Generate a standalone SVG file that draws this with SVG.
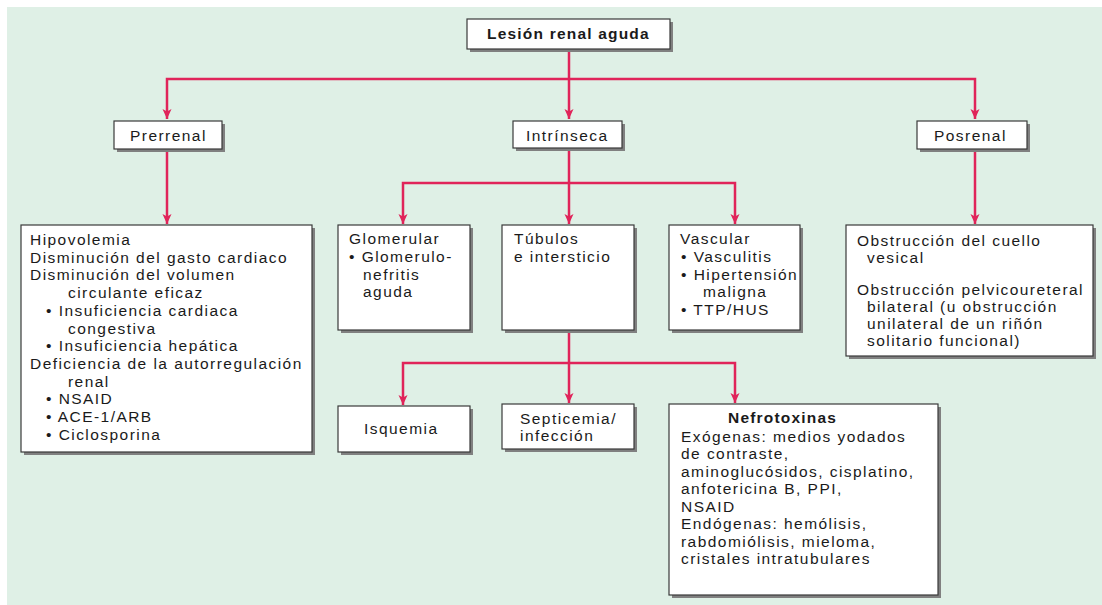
<svg xmlns="http://www.w3.org/2000/svg" width="1102" height="605" viewBox="0 0 1102 605">
<defs>
<marker id="ah" markerUnits="userSpaceOnUse" markerWidth="11" markerHeight="11" refX="10" refY="5" orient="auto">
<path d="M0,0.5 L10,5 L0,9.5 L2.5,5 z" fill="#e0245a"/>
</marker>
<style>
.bx{fill:#fff;stroke:#3a3a3a;stroke-width:1.2}
.sh{fill:#808080}
.t{font-family:"Liberation Sans",Arial,sans-serif;font-size:15.5px;letter-spacing:1.45px;fill:#1a1a1a}
.b{font-weight:bold;letter-spacing:1.2px}
.c{fill:none;stroke:#e0245a;stroke-width:2.5;marker-end:url(#ah)}
</style>
</defs>
<rect x="0" y="0" width="1102" height="605" fill="#fff"/>
<rect x="7" y="7" width="1095" height="598" fill="#dff0e6"/>

<g id="connectors">
<path class="c" d="M569,49 V119"/>
<path class="c" d="M569,79 H167 V119"/>
<path class="c" d="M569,79 H975 V119"/>
<path class="c" d="M167,150 V224"/>
<path class="c" d="M975,150 V224"/>
<path class="c" d="M569,148 V224"/>
<path class="c" d="M569,183 H403 V224"/>
<path class="c" d="M569,183 H735 V224"/>
<path class="c" d="M569,330 V403"/>
<path class="c" d="M569,363 H403 V405"/>
<path class="c" d="M569,363 H735 V403"/>
</g>

<g id="n-lesion">
<rect class="sh" x="470" y="22" width="203" height="30"/>
<rect class="bx" x="467" y="19" width="203" height="30"/>
<text class="t b" x="487" y="39">Lesión renal aguda</text>
</g>

<g id="n-prerrenal">
<rect class="sh" x="117" y="124" width="108" height="28"/>
<rect class="bx" x="114" y="121" width="108" height="28"/>
<text class="t" x="130" y="141">Prerrenal</text>
</g>

<g id="n-intrinseca">
<rect class="sh" x="516" y="124" width="109" height="27"/>
<rect class="bx" x="513" y="121" width="109" height="27"/>
<text class="t" x="526" y="141">Intrínseca</text>
</g>

<g id="n-posrenal">
<rect class="sh" x="920" y="124" width="110" height="28"/>
<rect class="bx" x="917" y="121" width="110" height="28"/>
<text class="t" x="934" y="141">Posrenal</text>
</g>

<g id="n-prerrenal-causas">
<rect class="sh" x="24" y="228" width="291" height="227"/>
<rect class="bx" x="21" y="225" width="291" height="227"/>
<text class="t" x="30" y="245">Hipovolemia</text>
<text class="t" x="30" y="262.7">Disminución del gasto cardiaco</text>
<text class="t" x="30" y="280.4">Disminución del volumen</text>
<text class="t" x="68" y="298">circulante eficaz</text>
<text class="t" x="46" y="315.8">• Insuficiencia cardiaca</text>
<text class="t" x="68" y="333.5">congestiva</text>
<text class="t" x="46" y="351.2">• Insuficiencia hepática</text>
<text class="t" x="30" y="369">Deficiencia de la autorregulación</text>
<text class="t" x="68" y="386.6">renal</text>
<text class="t" x="46" y="404.3">• NSAID</text>
<text class="t" x="46" y="422">• ACE-1/ARB</text>
<text class="t" x="46" y="439.7">• Ciclosporina</text>
</g>

<g id="n-glomerular">
<rect class="sh" x="341" y="228" width="132" height="105"/>
<rect class="bx" x="338" y="225" width="132" height="105"/>
<text class="t" x="349" y="244">Glomerular</text>
<text class="t" x="349" y="262">• Glomerulo-</text>
<text class="t" x="363" y="279.5">nefritis</text>
<text class="t" x="363" y="297">aguda</text>
</g>

<g id="n-tubulos">
<rect class="sh" x="505" y="228" width="132" height="105"/>
<rect class="bx" x="502" y="225" width="132" height="105"/>
<text class="t" x="514" y="244">Túbulos</text>
<text class="t" x="514" y="262">e intersticio</text>
</g>

<g id="n-vascular">
<rect class="sh" x="672" y="228" width="131" height="105"/>
<rect class="bx" x="669" y="225" width="131" height="105"/>
<text class="t" x="680" y="244">Vascular</text>
<text class="t" x="681" y="262">• Vasculitis</text>
<text class="t" x="681" y="279.5">• Hipertensión</text>
<text class="t" x="703" y="297">maligna</text>
<text class="t" x="681" y="315">• TTP/HUS</text>
</g>

<g id="n-posrenal-causas">
<rect class="sh" x="849" y="228" width="247" height="131"/>
<rect class="bx" x="846" y="225" width="247" height="131"/>
<text class="t" x="857" y="246">Obstrucción del cuello</text>
<text class="t" x="867" y="263">vesical</text>
<text class="t" x="857" y="295">Obstrucción pelvicoureteral</text>
<text class="t" x="867" y="312">bilateral (u obstrucción</text>
<text class="t" x="867" y="329">unilateral de un riñón</text>
<text class="t" x="867" y="346">solitario funcional)</text>
</g>

<g id="n-isquemia">
<rect class="sh" x="341" y="409" width="132" height="46"/>
<rect class="bx" x="338" y="406" width="132" height="46"/>
<text class="t" x="364" y="434">Isquemia</text>
</g>

<g id="n-septicemia">
<rect class="sh" x="505" y="407" width="132" height="45"/>
<rect class="bx" x="502" y="404" width="132" height="45"/>
<text class="t" x="520" y="424">Septicemia/</text>
<text class="t" x="520" y="441">infección</text>
</g>

<g id="n-nefrotoxinas">
<rect class="sh" x="672" y="407" width="269" height="191"/>
<rect class="bx" x="669" y="404" width="269" height="191"/>
<text class="t b" x="728" y="423">Nefrotoxinas</text>
<text class="t" x="681" y="442">Exógenas: medios yodados</text>
<text class="t" x="681" y="459">de contraste,</text>
<text class="t" x="681" y="476.5">aminoglucósidos, cisplatino,</text>
<text class="t" x="681" y="494">anfotericina B, PPI,</text>
<text class="t" x="681" y="511.5">NSAID</text>
<text class="t" x="681" y="529">Endógenas: hemólisis,</text>
<text class="t" x="681" y="546.5">rabdomiólisis, mieloma,</text>
<text class="t" x="681" y="564">cristales intratubulares</text>
</g>
</svg>
